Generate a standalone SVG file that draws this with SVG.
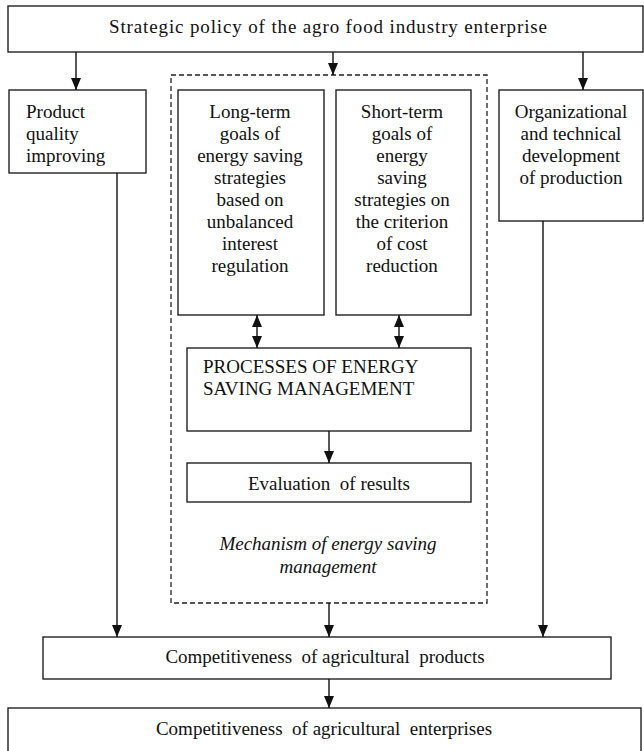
<svg xmlns="http://www.w3.org/2000/svg" width="644" height="751" viewBox="0 0 644 751">
<style>
.box{fill:#fff;stroke:#222;stroke-width:1.4}
.dash{fill:none;stroke:#222;stroke-width:1.3;stroke-dasharray:5 3}
text{font-family:'Liberation Serif','Times New Roman',Tinos,'DejaVu Serif',serif;font-size:19px;fill:#111}
.c{text-anchor:middle}
.i{font-style:italic}
.ln{fill:none;stroke:#111;stroke-width:1.4}
</style>
<defs>
<marker id="ah" viewBox="0 0 12 10" refX="12" refY="5" markerWidth="12" markerHeight="10" markerUnits="userSpaceOnUse" orient="auto-start-reverse">
<path d="M0,0 L12,5 L0,10 z" fill="#111"/>
</marker>
</defs>
<rect width="644" height="751" fill="#fff"/>

<g id="mechanism">
<rect class="dash" x="171" y="75" width="316" height="528"/>
<text class="c i" x="328" y="550">Mechanism of energy saving</text>
<text class="c i" x="328" y="573">management</text>
</g>

<g id="strategic">
<rect class="box" x="8" y="6" width="635" height="46"/>
<text x="109" y="33" textLength="438" lengthAdjust="spacing">Strategic policy of the agro food industry enterprise</text>
</g>

<g id="quality">
<rect class="box" x="9" y="90" width="137" height="83"/>
<text x="26" y="118">Product</text>
<text x="26" y="140">quality</text>
<text x="26" y="162">improving</text>
</g>

<g id="longterm">
<rect class="box" x="178" y="90" width="146" height="225"/>
<text class="c" x="250" y="118">Long-term</text>
<text class="c" x="250" y="140">goals of</text>
<text class="c" x="250" y="162">energy saving</text>
<text class="c" x="250" y="184">strategies</text>
<text class="c" x="250" y="206">based on</text>
<text class="c" x="250" y="228">unbalanced</text>
<text class="c" x="250" y="250">interest</text>
<text class="c" x="250" y="272">regulation</text>
</g>

<g id="shortterm">
<rect class="box" x="336" y="90" width="135" height="225"/>
<text class="c" x="402" y="118">Short-term</text>
<text class="c" x="402" y="140">goals of</text>
<text class="c" x="402" y="162">energy</text>
<text class="c" x="402" y="184">saving</text>
<text class="c" x="402" y="206">strategies on</text>
<text class="c" x="402" y="228">the criterion</text>
<text class="c" x="402" y="250">of cost</text>
<text class="c" x="402" y="272">reduction</text>
</g>

<g id="organizational">
<rect class="box" x="499" y="90" width="144" height="131"/>
<text class="c" x="571" y="118">Organizational</text>
<text class="c" x="571" y="140">and technical</text>
<text class="c" x="571" y="162">development</text>
<text class="c" x="571" y="184">of production</text>
</g>

<g id="processes">
<rect class="box" x="187" y="348" width="284" height="83"/>
<text x="203" y="373">PROCESSES OF ENERGY</text>
<text x="203" y="395">SAVING MANAGEMENT</text>
</g>

<g id="evaluation">
<rect class="box" x="187" y="463" width="284" height="39"/>
<text class="c" x="329" y="490" xml:space="preserve">Evaluation  of results</text>
</g>

<g id="products">
<rect class="box" x="43" y="637" width="568" height="42"/>
<text class="c" x="325" y="663" xml:space="preserve">Competitiveness  of agricultural  products</text>
</g>

<g id="enterprises">
<rect class="box" x="8" y="708" width="633" height="60"/>
<text class="c" x="324" y="735" xml:space="preserve">Competitiveness  of agricultural  enterprises</text>
</g>

<g id="connectors">
<line class="ln" x1="76" y1="52" x2="76" y2="90" marker-end="url(#ah)"/>
<line class="ln" x1="333" y1="52" x2="333" y2="75" marker-end="url(#ah)"/>
<line class="ln" x1="583" y1="52" x2="583" y2="90" marker-end="url(#ah)"/>
<line class="ln" x1="257" y1="315" x2="257" y2="348" marker-start="url(#ah)" marker-end="url(#ah)"/>
<line class="ln" x1="399" y1="315" x2="399" y2="348" marker-start="url(#ah)" marker-end="url(#ah)"/>
<line class="ln" x1="329" y1="431" x2="329" y2="463" marker-end="url(#ah)"/>
<line class="ln" x1="117" y1="173" x2="117" y2="637" marker-end="url(#ah)"/>
<line class="ln" x1="543" y1="221" x2="543" y2="637" marker-end="url(#ah)"/>
<line class="ln" x1="329" y1="603" x2="329" y2="637" marker-end="url(#ah)"/>
<line class="ln" x1="329" y1="679" x2="329" y2="708" marker-end="url(#ah)"/>
</g>
</svg>
